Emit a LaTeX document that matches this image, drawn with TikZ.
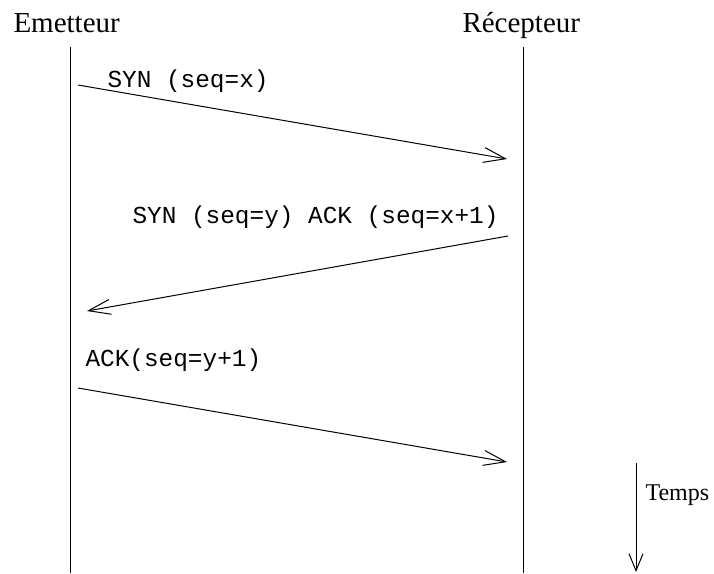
\documentclass[tikz,border=0pt]{standalone}
\usepackage{fontspec}
\setmainfont{Liberation Serif}
\setmonofont{Liberation Mono}
\usetikzlibrary{arrows.meta}

\begin{document}
\begin{tikzpicture}[x=1pt,y=-1pt,line width=1pt,
  msg/.style={-{Straight Barb[length=22pt,width=15pt,line width=1pt]}},
  head/.style={font=\fontsize{29}{32}\selectfont,anchor=base west,inner sep=0pt},
  lbl/.style={font=\ttfamily\fontsize{24.4}{28}\selectfont,anchor=base west,inner sep=0pt}]
  \useasboundingbox (0,0) rectangle (714,573);
  % headers
  \node[head] (emet) at (13,32) {Emetteur};
  \node[head] (recep) at (462,32) {R\'ecepteur};
  % lifelines
  \coordinate (eTop) at (70,47);
  \coordinate (eBot) at (70,573);
  \coordinate (rTop) at (523,47);
  \coordinate (rBot) at (523,573);
  \draw (eTop) -- (eBot);
  \draw (rTop) -- (rBot);
  % messages
  \coordinate (m1s) at (78,85);
  \coordinate (m1e) at (507,159);
  \coordinate (m2s) at (508,236);
  \coordinate (m2e) at (87,311);
  \coordinate (m3s) at (78,388);
  \coordinate (m3e) at (507,462);
  \draw[msg] (m1s) -- (m1e);
  \draw[msg] (m2s) -- (m2e);
  \draw[msg] (m3s) -- (m3e);
  \node[lbl] (l1) at (107,87) {SYN (seq=x)};
  \node[lbl] (l2) at (132,223) {SYN (seq=y) ACK (seq=x+1)};
  \node[lbl] (l3) at (85,366) {ACK(seq=y+1)};
  % time axis
  \coordinate (tTop) at (636,463);
  \coordinate (tBot) at (636,572);
  \draw[-{Straight Barb[length=17pt,width=14pt,line width=1pt]}] (tTop) -- (tBot);
  \node[head,font=\fontsize{24}{28}\selectfont] (temps) at (645,500) {Temps};
\end{tikzpicture}
\end{document}
